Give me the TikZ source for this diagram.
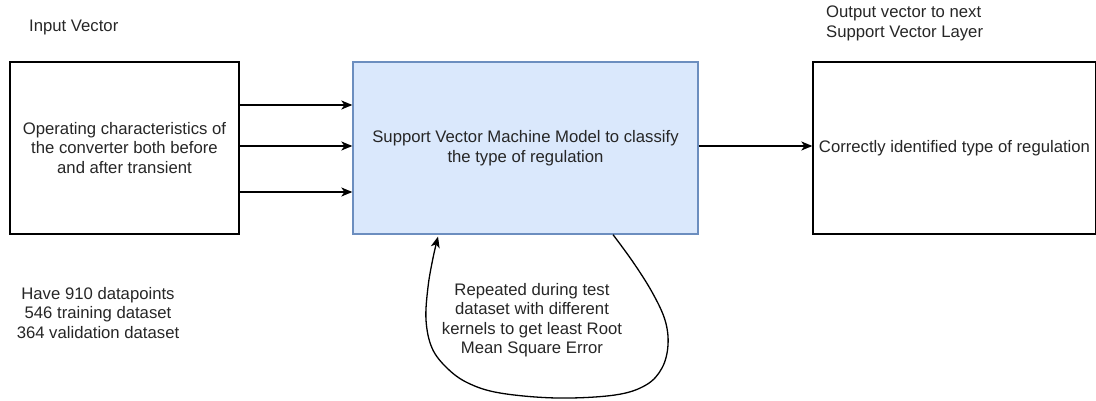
\documentclass[tikz,border=0pt]{standalone}
\usepackage{fontspec}
\setmainfont{Liberation Sans}
\usetikzlibrary{arrows.meta}
\definecolor{inkgray}{HTML}{262626}
\definecolor{svmfill}{HTML}{DAE8FC}
\definecolor{svmline}{HTML}{6C8EBF}
\begin{document}
\begin{tikzpicture}[x=1pt,y=-1pt,
  font=\fontsize{16.7}{19.5}\selectfont,
  every node/.style={text=inkgray},
  plainbox/.style={draw=black,line width=1.3pt,inner sep=0pt,
    minimum height=172pt,align=center},
  svmbox/.style={plainbox,draw=svmline,fill=svmfill},
  label/.style={align=center,inner sep=0pt},
  arr/.style={draw=black,line width=1.3pt,
    -{Stealth[length=11pt,width=9pt,inset=3pt]}}]
\useasboundingbox (0,0) rectangle (1096,401);
\clip (0,0) rectangle (1096,401);

% main blocks
\node[plainbox,minimum width=229pt] (inbox) at (124.5,148)
  {Operating characteristics of\\the converter both before\\and after transient};
\node[svmbox,minimum width=345pt] (svm) at (525.5,148)
  {Support Vector Machine Model to classify\\the type of regulation};
\node[plainbox,minimum width=283pt] (outbox) at (954.5,148)
  {Correctly identified type of regulation};

% captions
\node[label,anchor=west] (incap) at (29,27) {Input Vector};
\node[label,align=left,anchor=west] (outcap) at (826,23.5)
  {Output vector to next\\Support Vector Layer};
\node[label] (datanote) at (98,313)
  {Have 910 datapoints\\546 training dataset\\364 validation dataset};
\node[label] (loopnote) at (532,320)
  {Repeated during test\\dataset with different\\kernels to get least Root\\Mean Square Error};

% input connections
\draw[arr] ([yshift=43pt]inbox.east) -- ([yshift=43pt]svm.west);
\draw[arr] ([yshift=2pt]inbox.east) -- ([yshift=2pt]svm.west);
\draw[arr] ([yshift=-44pt]inbox.east) -- ([yshift=-44pt]svm.west);

% output connection
\draw[arr] ([yshift=2pt]svm.east) -- ([yshift=2pt]outbox.west);

% feedback loop under the model
\coordinate (loopstart) at ([xshift=87.5pt]svm.south);
\coordinate (loopend) at ([xshift=-87.5pt,yshift=-2pt]svm.south);
\draw[arr] plot[smooth,tension=0.6] coordinates {
  (loopstart) (633,262) (652,292) (665,320) (668,345) (662,368)
  (646,385) (615,395) (557,398) (500,393) (468,383) (447,368)
  (432,348) (426,320) (428,287) (433,258) (loopend)};
\end{tikzpicture}
\end{document}
